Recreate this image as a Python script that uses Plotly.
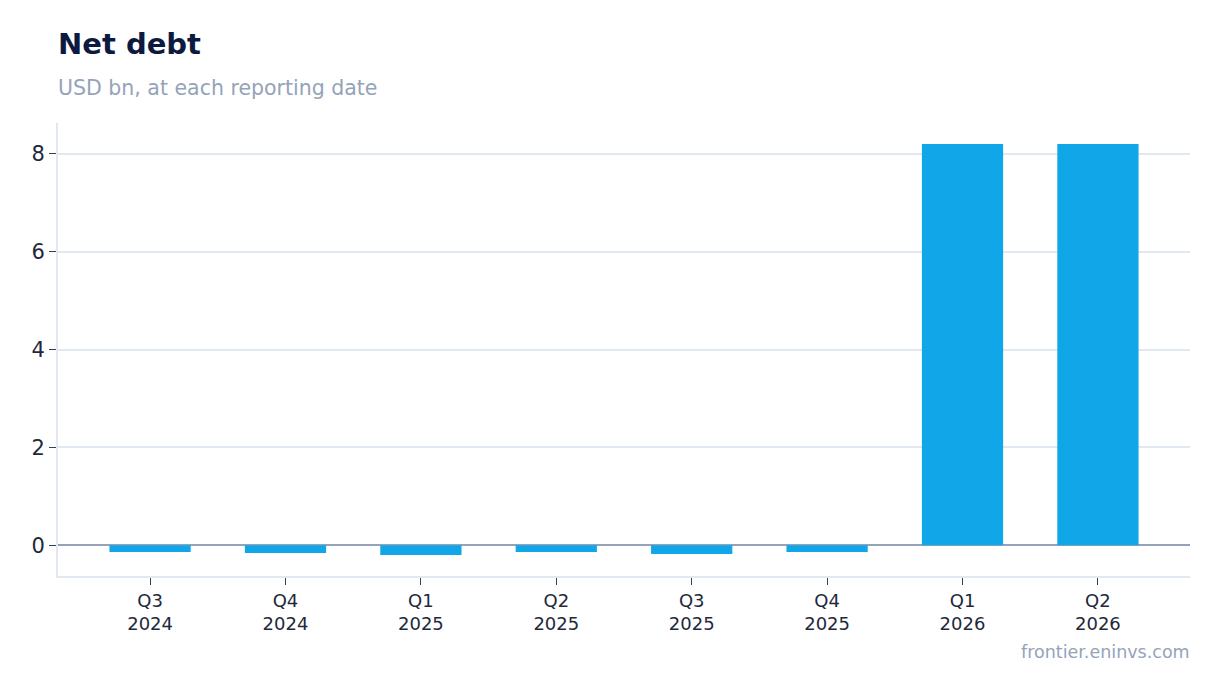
import plotly.graph_objects as go

quarters = ["Q3<br>2024", "Q4<br>2024", "Q1<br>2025", "Q2<br>2025",
            "Q3<br>2025", "Q4<br>2025", "Q1<br>2026", "Q2<br>2026"]
net_debt = [-0.14, -0.16, -0.20, -0.14, -0.18, -0.14, 8.2, 8.2]

BAR = "#10a6e8"
NAVY = "#0c1a40"
GREY = "#94a3b8"
GRID = "#e2e8f0"

fig = go.Figure()
fig.add_trace(go.Bar(
    x=quarters,
    y=net_debt,
    marker=dict(color=BAR, line=dict(width=0)),
    width=0.6,
    hoverinfo="skip",
))

fig.update_layout(
    width=1212,
    height=685,
    margin=dict(l=50, r=30, t=115, b=117),
    paper_bgcolor="white",
    plot_bgcolor="white",
    font=dict(family="DejaVu Sans", color=NAVY),
    showlegend=False,
    annotations=[
        dict(text="<b>Net debt</b>", xref="paper", yref="paper",
             x=0, y=1, xshift=-2, yshift=79, xanchor="left", yanchor="middle",
             showarrow=False, font=dict(size=29, color=NAVY)),
        dict(text="USD bn, at each reporting date", xref="paper", yref="paper",
             x=0, y=1, xshift=-2, yshift=35, xanchor="left", yanchor="middle",
             showarrow=False, font=dict(size=20.5, color=GREY)),
        dict(text="frontier.eninvs.com", xref="paper", yref="paper",
             x=1, y=0, xshift=2, yshift=-76, xanchor="right", yanchor="middle",
             showarrow=False, font=dict(size=17.5, color=GREY)),
    ],
)

fig.update_xaxes(
    range=[-0.68, 7.68],
    showline=True, linecolor=GRID, linewidth=2,
    ticks="outside", ticklen=7, tickcolor="#334155",
    tickfont=dict(size=18, color="#1e293b"),
    showgrid=False,
)
fig.update_yaxes(
    range=[-0.63, 8.63],
    tickvals=[0, 2, 4, 6, 8],
    showline=True, linecolor=GRID, linewidth=2,
    ticks="outside", ticklen=7, tickcolor="#334155",
    tickfont=dict(size=21, color="#1e293b"),
    showgrid=True, gridcolor=GRID, gridwidth=1.5,
    zeroline=True, zerolinecolor=GREY, zerolinewidth=2,
)

fig.write_html("out.html")
